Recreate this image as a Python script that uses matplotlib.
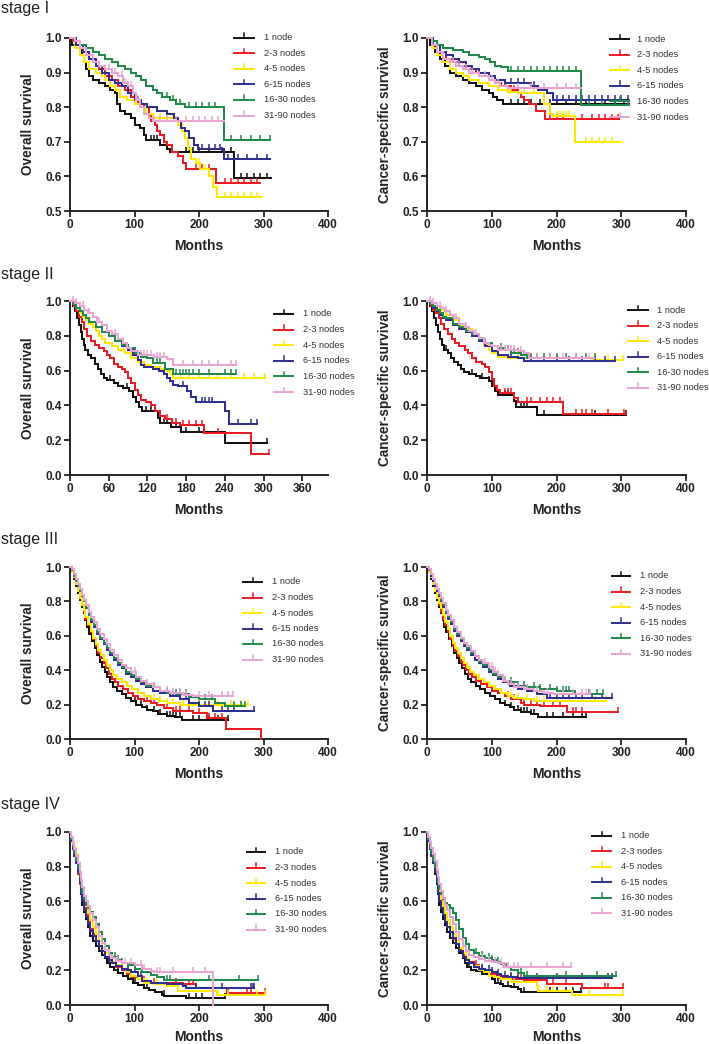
import numpy as np
import matplotlib
matplotlib.use("Agg")
import matplotlib.pyplot as plt
from matplotlib.lines import Line2D
from matplotlib.markers import TICKUP

plt.rcParams['font.family'] = ['Liberation Sans', 'DejaVu Sans']

# ---------------- data ----------------
groups = ['1 node', '2-3 nodes', '4-5 nodes', '6-15 nodes', '16-30 nodes', '31-90 nodes']
stages = ['stage I', 'stage II', 'stage III', 'stage IV']
x_ticks_default = [0, 100, 200, 300, 400]
x_ticks_os2 = [0, 60, 120, 180, 240, 300, 360]

# knots: (month, survival from that month on)
# ---- stage I, overall survival
os1_n1 = [(0,1.0),(3,0.98),(8,0.97),(18,0.95),(22,0.93),(25,0.91),(30,0.89),(35,0.88),(45,0.87),(55,0.86),(62,0.85),(70,0.84),(73,0.81),(78,0.79),(85,0.78),(95,0.77),(100,0.75),(108,0.74),(115,0.72),(118,0.705),(140,0.69),(150,0.68),(155,0.67),(255,0.595),(312,0.595)]
os1_n2 = [(0,1.0),(5,0.99),(15,0.97),(25,0.95),(35,0.93),(45,0.91),(55,0.89),(65,0.88),(75,0.86),(85,0.85),(95,0.83),(105,0.81),(115,0.80),(122,0.78),(125,0.76),(132,0.75),(135,0.73),(140,0.72),(145,0.70),(150,0.69),(158,0.67),(168,0.66),(175,0.64),(180,0.62),(226,0.58),(295,0.58)]
os1_n3 = [(0,1.0),(8,0.97),(15,0.95),(22,0.93),(30,0.91),(40,0.90),(50,0.89),(55,0.88),(62,0.86),(70,0.85),(78,0.83),(88,0.82),(100,0.81),(110,0.80),(118,0.78),(128,0.77),(168,0.75),(173,0.73),(178,0.71),(183,0.68),(188,0.65),(195,0.64),(202,0.62),(215,0.60),(222,0.57),(228,0.54),(298,0.54)]
os1_n4 = [(0,1.0),(10,0.98),(20,0.96),(30,0.94),(40,0.92),(50,0.90),(60,0.88),(70,0.87),(80,0.86),(90,0.84),(100,0.82),(110,0.81),(120,0.80),(135,0.79),(150,0.78),(162,0.77),(168,0.76),(172,0.74),(178,0.73),(185,0.71),(192,0.69),(198,0.68),(238,0.65),(310,0.65)]
os1_n5 = [(0,1.0),(8,0.99),(15,0.98),(25,0.97),(35,0.96),(45,0.95),(55,0.94),(65,0.93),(75,0.92),(85,0.91),(95,0.90),(102,0.89),(110,0.88),(118,0.86),(128,0.85),(135,0.84),(142,0.83),(155,0.82),(165,0.81),(178,0.80),(238,0.705),(310,0.705)]
os1_n6 = [(0,1.0),(8,0.99),(15,0.97),(25,0.95),(35,0.93),(45,0.92),(55,0.91),(65,0.90),(75,0.89),(82,0.87),(90,0.86),(98,0.84),(103,0.82),(108,0.80),(115,0.78),(122,0.77),(128,0.76),(238,0.76)]
os1_c1 = [125,130,135,180,185,190,200,215,235,250,265,275,285,295,305]
os1_c2 = [195,205,215,240,250,260,270,280,290]
os1_c3 = [140,150,160,200,210,240,250,260,270,280,290]
os1_c4 = [205,215,225,232,245,260,275,290,305]
os1_c5 = [150,160,170,185,195,205,215,225,250,265,280,295,310]
os1_c6 = [60,65,70,80,85,90,95,105,115,130,140,150,165,180,190,200,210,220,230]

# ---- stage I, cancer-specific survival
css1_n1 = [(0,1.0),(5,0.98),(12,0.96),(20,0.94),(28,0.92),(35,0.90),(45,0.89),(55,0.88),(65,0.87),(75,0.86),(85,0.85),(95,0.84),(102,0.83),(108,0.82),(118,0.81),(312,0.81)]
css1_n2 = [(0,1.0),(10,0.98),(20,0.96),(30,0.94),(40,0.93),(50,0.92),(60,0.91),(75,0.90),(90,0.89),(105,0.88),(110,0.87),(115,0.86),(130,0.85),(140,0.84),(145,0.83),(150,0.82),(158,0.81),(168,0.79),(182,0.765),(297,0.765)]
css1_n3 = [(0,1.0),(8,0.97),(15,0.95),(25,0.93),(35,0.91),(45,0.90),(55,0.89),(65,0.88),(80,0.87),(95,0.86),(110,0.85),(125,0.845),(140,0.84),(180,0.81),(190,0.78),(195,0.775),(229,0.70),(298,0.70)]
css1_n4 = [(0,1.0),(10,0.98),(20,0.96),(30,0.95),(40,0.94),(50,0.93),(60,0.92),(70,0.91),(80,0.90),(95,0.89),(105,0.88),(120,0.87),(160,0.86),(172,0.85),(185,0.84),(195,0.82),(312,0.82)]
css1_n5 = [(0,1.0),(8,0.99),(15,0.98),(25,0.97),(40,0.965),(55,0.96),(65,0.95),(80,0.945),(90,0.94),(98,0.93),(105,0.92),(115,0.915),(125,0.905),(238,0.805),(312,0.805)]
css1_n6 = [(0,1.0),(8,0.98),(15,0.96),(25,0.94),(35,0.93),(45,0.92),(55,0.91),(65,0.90),(80,0.89),(95,0.88),(105,0.87),(112,0.86),(125,0.855),(238,0.855)]
css1_c1 = [130,140,150,160,175,190,200,215,230,245,260,275,290,305]
css1_c2 = [120,135,190,200,210,240,255,265,275,285,295]
css1_c3 = [130,150,165,200,205,210,215,220,245,255,265,275,285]
css1_c4 = [130,140,150,165,200,210,220,230,240,250,260,270,280,290,300,310]
css1_c5 = [130,140,150,160,170,180,190,200,210,220,230,250,270,290,310]
css1_c6 = [40,50,60,70,80,90,100,110,140,160,180,200,215,230]

# ---- stage II, overall survival
os2_n1 = [(0,1.0),(5,0.97),(8,0.94),(11,0.90),(14,0.86),(17,0.82),(19,0.78),(21,0.75),(24,0.72),(28,0.69),(33,0.67),(38,0.64),(43,0.61),(48,0.58),(53,0.56),(58,0.545),(68,0.53),(75,0.51),(82,0.50),(92,0.48),(97,0.45),(102,0.42),(107,0.39),(112,0.37),(136,0.33),(140,0.30),(157,0.275),(172,0.25),(240,0.185),(305,0.185)]
os2_n2 = [(0,1.0),(6,0.97),(10,0.94),(14,0.91),(18,0.88),(22,0.84),(27,0.80),(32,0.77),(38,0.75),(45,0.73),(52,0.71),(58,0.69),(62,0.67),(68,0.64),(74,0.62),(80,0.61),(85,0.59),(90,0.56),(95,0.53),(100,0.49),(105,0.46),(110,0.43),(118,0.42),(125,0.40),(132,0.37),(140,0.34),(147,0.32),(158,0.30),(170,0.29),(208,0.24),(280,0.12),(308,0.12)]
os2_n3 = [(0,1.0),(5,0.98),(10,0.96),(15,0.93),(20,0.91),(25,0.89),(30,0.87),(35,0.85),(40,0.83),(45,0.80),(50,0.78),(55,0.76),(65,0.74),(75,0.72),(85,0.70),(95,0.67),(105,0.65),(115,0.635),(125,0.62),(140,0.61),(150,0.60),(155,0.58),(160,0.56),(302,0.56)]
os2_n4 = [(0,1.0),(5,0.98),(10,0.96),(15,0.94),(20,0.92),(25,0.90),(30,0.88),(40,0.85),(50,0.82),(60,0.80),(70,0.77),(80,0.74),(90,0.72),(98,0.69),(105,0.66),(110,0.63),(115,0.62),(128,0.61),(138,0.60),(145,0.58),(150,0.56),(155,0.54),(160,0.52),(168,0.51),(182,0.48),(188,0.45),(195,0.42),(240,0.37),(246,0.295),(290,0.295)]
os2_n5 = [(0,1.0),(5,0.98),(10,0.96),(15,0.94),(20,0.92),(25,0.90),(30,0.88),(40,0.85),(50,0.82),(60,0.80),(70,0.77),(80,0.75),(90,0.73),(100,0.70),(110,0.68),(120,0.67),(128,0.645),(148,0.61),(160,0.58),(258,0.58)]
os2_n6 = [(0,1.0),(8,0.99),(15,0.97),(22,0.95),(28,0.93),(35,0.91),(42,0.88),(50,0.86),(58,0.83),(65,0.81),(75,0.78),(82,0.76),(88,0.73),(95,0.71),(105,0.69),(130,0.68),(150,0.665),(160,0.635),(258,0.635)]
os2_c1 = [62,88,118,125,145,150,165,180,200,305]
os2_c2 = [150,165,175,185,195,205,230,308]
os2_c3 = [170,185,200,215,230,250,270,285,302]
os2_c4 = [175,205,210,215,220,260,280,290]
os2_c5 = [135,140,165,170,175,180,185,190,200,215,240,250,258]
os2_c6 = [5,10,20,30,45,70,110,115,120,125,135,140,145,175,190,205,215,230,250,258]

# ---- stage II, cancer-specific survival
css2_n1 = [(0,1.0),(5,0.97),(8,0.94),(11,0.90),(14,0.86),(17,0.82),(20,0.78),(23,0.75),(27,0.72),(32,0.70),(37,0.67),(42,0.65),(48,0.63),(53,0.61),(57,0.59),(65,0.58),(75,0.57),(82,0.555),(95,0.54),(100,0.51),(105,0.48),(110,0.46),(135,0.425),(138,0.39),(170,0.345),(308,0.345)]
css2_n2 = [(0,1.0),(6,0.97),(10,0.95),(14,0.93),(18,0.90),(22,0.87),(26,0.84),(32,0.81),(38,0.78),(44,0.76),(50,0.74),(58,0.72),(64,0.70),(70,0.67),(76,0.65),(85,0.64),(90,0.62),(95,0.59),(100,0.55),(104,0.51),(108,0.49),(113,0.47),(135,0.44),(140,0.42),(210,0.35),(308,0.35)]
css2_n3 = [(0,1.0),(5,0.98),(10,0.97),(20,0.95),(30,0.92),(40,0.89),(50,0.86),(60,0.84),(70,0.81),(80,0.78),(88,0.75),(95,0.72),(100,0.70),(110,0.68),(125,0.675),(150,0.67),(255,0.66),(302,0.66)]
css2_n4 = [(0,1.0),(5,0.98),(10,0.96),(15,0.94),(20,0.92),(25,0.90),(30,0.89),(40,0.86),(50,0.84),(60,0.82),(70,0.80),(80,0.77),(90,0.74),(100,0.71),(110,0.69),(125,0.68),(140,0.67),(150,0.655),(290,0.655)]
css2_n5 = [(0,1.0),(5,0.98),(10,0.97),(15,0.95),(20,0.93),(25,0.91),(30,0.90),(40,0.87),(50,0.85),(60,0.83),(70,0.81),(80,0.78),(90,0.76),(100,0.74),(110,0.73),(120,0.72),(130,0.70),(145,0.69),(155,0.675),(260,0.675)]
css2_n6 = [(0,1.0),(8,0.99),(15,0.97),(22,0.96),(28,0.94),(35,0.92),(42,0.90),(50,0.87),(58,0.85),(65,0.83),(72,0.81),(80,0.79),(88,0.76),(95,0.75),(100,0.74),(110,0.72),(140,0.71),(150,0.70),(158,0.67),(258,0.67)]
css2_c1 = [30,70,85,95,120,125,145,150,155,180,260,308]
css2_c2 = [120,125,130,155,160,175,185,195,205,230,240,245,255,280,305]
css2_c3 = [140,160,180,200,230,260,280,302]
css2_c4 = [130,160,180,200,220,240,260,275,290]
css2_c5 = [115,125,135,140,160,170,180,190,200,215,230,245,260]
css2_c6 = [5,10,20,30,45,60,75,90,115,120,125,130,135,145,170,190,210,230,250]

# ---- stage III, overall survival
os3_n1 = [(0,1.0),(3,0.97),(6,0.93),(9,0.89),(12,0.85),(15,0.81),(18,0.77),(21,0.73),(24,0.69),(27,0.65),(30,0.61),(34,0.57),(38,0.53),(42,0.49),(46,0.45),(50,0.42),(54,0.39),(58,0.36),(62,0.33),(67,0.30),(73,0.28),(80,0.26),(87,0.24),(95,0.22),(103,0.20),(112,0.185),(120,0.17),(128,0.16),(137,0.145),(150,0.135),(163,0.13),(174,0.11),(245,0.11)]
os3_n2 = [(0,1.0),(3,0.97),(6,0.94),(9,0.90),(12,0.86),(15,0.82),(18,0.78),(21,0.74),(24,0.70),(28,0.66),(32,0.62),(36,0.58),(40,0.54),(44,0.50),(48,0.47),(52,0.44),(56,0.41),(60,0.38),(65,0.35),(70,0.33),(75,0.31),(82,0.29),(90,0.27),(98,0.25),(106,0.23),(115,0.22),(125,0.21),(135,0.20),(145,0.18),(160,0.165),(180,0.16),(190,0.15),(212,0.125),(242,0.06),(296,0.0)]
os3_n3 = [(0,1.0),(3,0.97),(6,0.94),(9,0.90),(12,0.86),(15,0.82),(18,0.78),(21,0.75),(24,0.71),(28,0.67),(32,0.63),(36,0.59),(40,0.55),(44,0.52),(48,0.49),(52,0.46),(57,0.43),(62,0.40),(67,0.37),(73,0.35),(80,0.33),(88,0.31),(96,0.29),(105,0.27),(115,0.25),(125,0.235),(138,0.22),(150,0.21),(170,0.20),(276,0.20)]
os3_n4 = [(0,1.0),(3,0.98),(6,0.95),(9,0.92),(12,0.89),(15,0.86),(18,0.83),(21,0.80),(25,0.76),(29,0.72),(33,0.68),(37,0.65),(42,0.61),(47,0.58),(52,0.55),(57,0.52),(62,0.49),(68,0.46),(74,0.43),(80,0.41),(87,0.38),(95,0.36),(102,0.34),(110,0.32),(118,0.30),(128,0.28),(140,0.27),(155,0.25),(170,0.23),(185,0.21),(200,0.19),(222,0.16),(285,0.16)]
os3_n5 = [(0,1.0),(3,0.98),(6,0.95),(9,0.92),(12,0.89),(15,0.86),(18,0.83),(21,0.80),(25,0.76),(29,0.72),(33,0.69),(37,0.66),(42,0.62),(47,0.59),(52,0.56),(57,0.53),(62,0.50),(68,0.47),(74,0.44),(80,0.42),(87,0.39),(95,0.37),(102,0.35),(110,0.33),(118,0.31),(128,0.30),(140,0.28),(150,0.27),(165,0.26),(185,0.245),(200,0.23),(225,0.21),(240,0.19),(272,0.19)]
os3_n6 = [(0,1.0),(3,0.99),(6,0.96),(9,0.93),(12,0.90),(15,0.87),(18,0.84),(21,0.81),(25,0.78),(29,0.74),(33,0.71),(37,0.68),(42,0.64),(47,0.61),(52,0.58),(57,0.55),(62,0.52),(68,0.49),(74,0.46),(80,0.43),(87,0.41),(95,0.39),(102,0.36),(110,0.34),(118,0.32),(128,0.30),(140,0.28),(155,0.265),(175,0.255),(190,0.25),(252,0.25)]
os3_c1 = [100,110,120,130,140,150,155,160,165,170,190,200,215,230,245]
os3_c2 = [120,130,150,165,170,185,200,215,225,235]
os3_c3 = [130,140,150,160,175,185,200,215,230,250,265,276]
os3_c4 = [160,180,200,210,215,235,245,255,285]
os3_c5 = [120,130,150,165,170,180,210,220,255,265,272]
os3_c6 = [100,110,120,130,140,150,160,170,180,200,215,235,245,252]

# ---- stage III, cancer-specific survival
css3_n1 = [(0,1.0),(3,0.97),(6,0.93),(9,0.89),(12,0.85),(15,0.81),(18,0.77),(21,0.73),(24,0.69),(27,0.65),(30,0.62),(34,0.58),(38,0.54),(42,0.50),(46,0.47),(50,0.44),(54,0.41),(58,0.38),(63,0.35),(68,0.33),(75,0.31),(82,0.29),(90,0.27),(98,0.25),(105,0.23),(112,0.21),(120,0.20),(128,0.185),(135,0.17),(145,0.155),(160,0.145),(172,0.13),(245,0.13)]
css3_n2 = [(0,1.0),(3,0.97),(6,0.94),(9,0.90),(12,0.86),(15,0.82),(18,0.78),(21,0.74),(24,0.70),(28,0.66),(32,0.62),(36,0.58),(40,0.54),(44,0.51),(48,0.48),(52,0.45),(56,0.43),(60,0.40),(65,0.38),(70,0.36),(76,0.34),(84,0.32),(92,0.30),(100,0.28),(110,0.265),(120,0.25),(130,0.23),(145,0.21),(150,0.20),(175,0.19),(216,0.155),(295,0.155)]
css3_n3 = [(0,1.0),(3,0.97),(6,0.94),(9,0.90),(12,0.86),(15,0.82),(18,0.79),(21,0.76),(24,0.72),(28,0.68),(32,0.64),(36,0.60),(40,0.56),(44,0.53),(48,0.50),(52,0.47),(57,0.44),(62,0.42),(67,0.39),(73,0.37),(80,0.35),(88,0.33),(96,0.31),(105,0.29),(115,0.27),(125,0.25),(135,0.24),(148,0.23),(165,0.22),(276,0.22)]
css3_n4 = [(0,1.0),(3,0.98),(6,0.95),(9,0.92),(12,0.89),(15,0.86),(18,0.83),(21,0.80),(25,0.77),(29,0.73),(33,0.70),(37,0.67),(42,0.63),(47,0.60),(52,0.57),(57,0.54),(62,0.52),(68,0.49),(74,0.46),(80,0.44),(87,0.42),(95,0.39),(102,0.37),(110,0.35),(118,0.33),(128,0.31),(140,0.29),(155,0.28),(170,0.26),(185,0.24),(285,0.24)]
css3_n5 = [(0,1.0),(3,0.98),(6,0.96),(9,0.93),(12,0.90),(15,0.87),(18,0.84),(21,0.81),(25,0.78),(29,0.74),(33,0.71),(37,0.68),(42,0.64),(47,0.61),(52,0.58),(57,0.55),(62,0.53),(68,0.50),(74,0.48),(80,0.45),(87,0.43),(95,0.40),(102,0.38),(110,0.36),(118,0.34),(128,0.33),(140,0.31),(155,0.30),(175,0.29),(200,0.28),(228,0.26),(272,0.26)]
css3_n6 = [(0,1.0),(3,0.99),(6,0.96),(9,0.93),(12,0.90),(15,0.87),(18,0.85),(21,0.82),(25,0.79),(29,0.75),(33,0.72),(37,0.69),(42,0.65),(47,0.62),(52,0.59),(57,0.56),(62,0.54),(68,0.51),(74,0.48),(80,0.46),(87,0.44),(95,0.42),(102,0.39),(110,0.37),(118,0.34),(125,0.32),(135,0.30),(150,0.29),(165,0.28),(180,0.27),(195,0.26),(252,0.26)]
css3_c1 = [120,130,140,145,150,155,160,165,185,195,210,225,240,245]
css3_c2 = [125,135,150,160,170,180,195,205,225,230,240,295]
css3_c3 = [130,140,155,170,180,200,220,240,260,276]
css3_c4 = [190,200,210,220,230,240,255,270,285]
css3_c5 = [120,130,140,150,165,175,190,200,210,215,220,250,262,272]
css3_c6 = [90,95,100,105,110,120,130,140,155,170,185,210,225,240,245,252]

# ---- stage IV, overall survival
os4_n1 = [(0,1.0),(2,0.95),(4,0.90),(6,0.86),(9,0.82),(12,0.76),(15,0.70),(17,0.64),(19,0.58),(22,0.54),(25,0.50),(28,0.45),(31,0.40),(35,0.37),(40,0.34),(45,0.31),(50,0.29),(55,0.27),(58,0.245),(62,0.22),(68,0.20),(75,0.185),(82,0.17),(90,0.15),(97,0.13),(105,0.115),(115,0.10),(123,0.085),(132,0.075),(143,0.06),(146,0.05),(180,0.04),(240,0.04)]
os4_n2 = [(0,1.0),(2,0.95),(4,0.91),(6,0.87),(9,0.82),(12,0.76),(15,0.70),(17,0.65),(19,0.60),(22,0.56),(25,0.52),(28,0.48),(31,0.44),(35,0.41),(40,0.37),(45,0.34),(50,0.31),(55,0.28),(60,0.26),(65,0.24),(72,0.22),(80,0.20),(88,0.18),(95,0.16),(105,0.15),(112,0.14),(125,0.13),(175,0.12),(196,0.10),(243,0.07),(302,0.07)]
os4_n3 = [(0,1.0),(2,0.97),(4,0.94),(6,0.91),(9,0.87),(12,0.81),(15,0.75),(17,0.70),(19,0.66),(22,0.61),(25,0.57),(28,0.53),(31,0.49),(35,0.45),(40,0.41),(45,0.37),(50,0.33),(55,0.30),(60,0.27),(65,0.25),(72,0.23),(80,0.21),(88,0.19),(95,0.17),(105,0.15),(115,0.13),(130,0.12),(150,0.11),(168,0.08),(228,0.06),(303,0.06)]
os4_n4 = [(0,1.0),(2,0.95),(4,0.90),(6,0.86),(9,0.82),(12,0.77),(15,0.71),(17,0.65),(19,0.60),(22,0.55),(25,0.51),(28,0.47),(31,0.43),(35,0.40),(40,0.37),(45,0.34),(50,0.31),(55,0.28),(60,0.26),(65,0.24),(72,0.225),(80,0.21),(88,0.20),(95,0.19),(105,0.17),(112,0.14),(125,0.13),(150,0.12),(175,0.11),(180,0.10),(286,0.10)]
os4_n5 = [(0,1.0),(2,0.96),(4,0.92),(6,0.88),(9,0.84),(12,0.79),(15,0.74),(17,0.69),(19,0.65),(22,0.61),(25,0.58),(28,0.56),(31,0.54),(35,0.51),(40,0.47),(45,0.42),(50,0.38),(55,0.34),(60,0.30),(65,0.28),(72,0.26),(80,0.24),(90,0.23),(100,0.21),(112,0.19),(125,0.175),(135,0.16),(145,0.145),(292,0.145)]
os4_n6 = [(0,1.0),(2,0.97),(4,0.93),(6,0.90),(9,0.86),(12,0.82),(15,0.77),(17,0.72),(19,0.68),(22,0.63),(25,0.60),(28,0.57),(31,0.53),(35,0.49),(40,0.45),(45,0.40),(50,0.36),(55,0.32),(60,0.29),(65,0.27),(72,0.255),(80,0.245),(90,0.24),(100,0.23),(112,0.21),(125,0.195),(130,0.19),(222,0.0)]
os4_c1 = [60,75,100,120,145,185,195,205,240]
os4_c2 = [105,115,130,165,185,190,245,275,280,302]
os4_c3 = [120,135,230,245,290,303]
os4_c4 = [90,100,110,195,235,280,283,286]
os4_c5 = [70,75,80,150,155,215,262,292]
os4_c6 = [75,85,95,110,115,135,140,160,190,210]

# ---- stage IV, cancer-specific survival
css4_n1 = [(0,1.0),(2,0.95),(4,0.90),(6,0.86),(9,0.82),(12,0.76),(15,0.70),(17,0.64),(19,0.58),(22,0.54),(25,0.50),(28,0.46),(31,0.42),(35,0.39),(40,0.36),(45,0.33),(50,0.30),(55,0.27),(58,0.24),(62,0.22),(68,0.205),(75,0.195),(85,0.18),(95,0.165),(100,0.15),(105,0.13),(112,0.12),(118,0.11),(130,0.105),(140,0.095),(145,0.075),(238,0.075)]
css4_n2 = [(0,1.0),(2,0.95),(4,0.91),(6,0.87),(9,0.82),(12,0.77),(15,0.71),(17,0.66),(19,0.61),(22,0.57),(25,0.53),(28,0.49),(31,0.45),(35,0.42),(40,0.38),(45,0.35),(50,0.32),(55,0.29),(60,0.27),(65,0.25),(72,0.23),(80,0.21),(88,0.195),(95,0.18),(105,0.165),(112,0.155),(125,0.15),(150,0.145),(186,0.12),(239,0.10),(303,0.10)]
css4_n3 = [(0,1.0),(2,0.97),(4,0.94),(6,0.91),(9,0.87),(12,0.81),(15,0.75),(17,0.70),(19,0.66),(22,0.61),(25,0.57),(28,0.53),(31,0.49),(35,0.45),(40,0.41),(45,0.37),(50,0.33),(55,0.30),(60,0.27),(65,0.245),(72,0.225),(80,0.205),(88,0.19),(95,0.17),(105,0.16),(115,0.15),(130,0.135),(170,0.11),(172,0.08),(224,0.06),(303,0.06)]
css4_n4 = [(0,1.0),(2,0.95),(4,0.90),(6,0.86),(9,0.82),(12,0.77),(15,0.71),(17,0.65),(19,0.60),(22,0.56),(25,0.52),(28,0.48),(31,0.45),(35,0.42),(40,0.39),(45,0.35),(50,0.31),(55,0.28),(60,0.26),(65,0.24),(72,0.22),(80,0.21),(90,0.20),(100,0.19),(108,0.18),(115,0.17),(125,0.16),(140,0.155),(285,0.155)]
css4_n5 = [(0,1.0),(2,0.96),(4,0.92),(6,0.88),(9,0.84),(12,0.80),(15,0.76),(17,0.71),(19,0.67),(22,0.64),(25,0.61),(28,0.59),(31,0.58),(35,0.56),(40,0.53),(45,0.49),(50,0.44),(55,0.39),(60,0.35),(65,0.32),(72,0.30),(80,0.285),(90,0.27),(100,0.26),(108,0.25),(115,0.235),(122,0.22),(130,0.20),(140,0.185),(150,0.17),(292,0.17)]
css4_n6 = [(0,1.0),(2,0.97),(4,0.94),(6,0.91),(9,0.87),(12,0.83),(15,0.78),(17,0.74),(19,0.70),(22,0.66),(25,0.62),(28,0.58),(31,0.55),(35,0.51),(40,0.47),(45,0.42),(50,0.38),(55,0.34),(60,0.31),(65,0.29),(72,0.275),(80,0.265),(90,0.255),(100,0.25),(110,0.24),(118,0.22),(222,0.22)]
css4_c1 = [65,80,105,110,115,125,135,150,190,200,215,225,238]
css4_c2 = [75,85,100,130,145,160,175,195,215,275,280,303]
css4_c3 = [135,185,195,250,303]
css4_c4 = [85,95,100,110,120,130,140,150,170,200,240,280,285]
css4_c5 = [75,85,95,100,110,145,155,215,262,292]
css4_c6 = [85,95,105,115,120,125,135,140,160,185,210,222]

# ---------------- style / layout ----------------
colors = ['#111111', '#ec1c24', '#ffe800', '#2e2f8f', '#1f8a4c', '#e9a3d3']
W, H = 709, 1044
fig = plt.figure(figsize=(W / 100, H / 100), dpi=100)

def fx(px):
    return px / W

def fy(py):
    return 1 - py / H

col_x = [(70, 328), (427, 686)]
row_y = [(38, 211), (301, 475), (567, 739), (832, 1005)]
months_off = [34.5, 34.5, 34.5, 32.0]
stage_baseline = [12.5, 279, 544, 809]

panels = [
    dict(r=0, c=0, curves=[os1_n1, os1_n2, os1_n3, os1_n4, os1_n5, os1_n6],
         cens=[os1_c1, os1_c2, os1_c3, os1_c4, os1_c5, os1_c6], ylab='Overall survival',
         ylim=(0.5, 1.0), yt=[0.5, 0.6, 0.7, 0.8, 0.9, 1.0], xt=x_ticks_default, leg=(234, 254, 264, 37.5, 15.6)),
    dict(r=0, c=1, curves=[css1_n1, css1_n2, css1_n3, css1_n4, css1_n5, css1_n6],
         cens=[css1_c1, css1_c2, css1_c3, css1_c4, css1_c5, css1_c6], ylab='Cancer-specific survival',
         ylim=(0.5, 1.0), yt=[0.5, 0.6, 0.7, 0.8, 0.9, 1.0], xt=x_ticks_default, leg=(610, 629, 637, 39, 15.6)),
    dict(r=1, c=0, curves=[os2_n1, os2_n2, os2_n3, os2_n4, os2_n5, os2_n6],
         cens=[os2_c1, os2_c2, os2_c3, os2_c4, os2_c5, os2_c6], ylab='Overall survival',
         ylim=(0.0, 1.0), yt=[0.0, 0.2, 0.4, 0.6, 0.8, 1.0], xt=x_ticks_os2, leg=(274, 293, 303, 314, 15.6)),
    dict(r=1, c=1, curves=[css2_n1, css2_n2, css2_n3, css2_n4, css2_n5, css2_n6],
         cens=[css2_c1, css2_c2, css2_c3, css2_c4, css2_c5, css2_c6], ylab='Cancer-specific survival',
         ylim=(0.0, 1.0), yt=[0.0, 0.2, 0.4, 0.6, 0.8, 1.0], xt=x_ticks_default, leg=(628, 648, 657, 310, 15.6)),
    dict(r=2, c=0, curves=[os3_n1, os3_n2, os3_n3, os3_n4, os3_n5, os3_n6],
         cens=[os3_c1, os3_c2, os3_c3, os3_c4, os3_c5, os3_c6], ylab='Overall survival',
         ylim=(0.0, 1.0), yt=[0.0, 0.2, 0.4, 0.6, 0.8, 1.0], xt=x_ticks_default, leg=(243, 262, 272, 582, 15.5)),
    dict(r=2, c=1, curves=[css3_n1, css3_n2, css3_n3, css3_n4, css3_n5, css3_n6],
         cens=[css3_c1, css3_c2, css3_c3, css3_c4, css3_c5, css3_c6], ylab='Cancer-specific survival',
         ylim=(0.0, 1.0), yt=[0.0, 0.2, 0.4, 0.6, 0.8, 1.0], xt=x_ticks_default, leg=(612, 630, 640, 576, 15.6)),
    dict(r=3, c=0, curves=[os4_n1, os4_n2, os4_n3, os4_n4, os4_n5, os4_n6],
         cens=[os4_c1, os4_c2, os4_c3, os4_c4, os4_c5, os4_c6], ylab='Overall survival',
         ylim=(0.0, 1.0), yt=[0.0, 0.2, 0.4, 0.6, 0.8, 1.0], xt=x_ticks_default, leg=(247, 265, 275, 852, 15.5)),
    dict(r=3, c=1, curves=[css4_n1, css4_n2, css4_n3, css4_n4, css4_n5, css4_n6],
         cens=[css4_c1, css4_c2, css4_c3, css4_c4, css4_c5, css4_c6], ylab='Cancer-specific survival',
         ylim=(0.0, 1.0), yt=[0.0, 0.2, 0.4, 0.6, 0.8, 1.0], xt=x_ticks_default, leg=(592, 611, 621, 836, 15.4)),
]

LW = 1.45
for p in panels:
    x0, x1 = col_x[p['c']]
    y0, y1 = row_y[p['r']]
    ax = fig.add_axes([fx(x0), fy(y1), fx(x1) - fx(x0), fy(y0) - fy(y1)])
    ax.set_xlim(0, 400)
    ax.set_ylim(*p['ylim'])
    for sp in ['top', 'right']:
        ax.spines[sp].set_visible(False)
    for sp in ['left', 'bottom']:
        ax.spines[sp].set_linewidth(1.4)
        ax.spines[sp].set_color('#222222')
    ax.set_xticks(p['xt'])
    ax.set_yticks(p['yt'])
    ax.set_xticklabels([str(v) for v in p['xt']])
    ax.set_yticklabels(['%.1f' % v for v in p['yt']])
    ax.tick_params(direction='out', length=4, width=1.3, color='#222222', pad=2,
                   labelsize=8.5, labelcolor='#222222')
    for lab in ax.get_xticklabels() + ax.get_yticklabels():
        lab.set_fontweight('bold')
    ax.patch.set_alpha(0)

    for k, (knots, cens) in enumerate(zip(p['curves'], p['cens'])):
        t = np.array([a for a, b in knots], dtype=float)
        s = np.array([b for a, b in knots], dtype=float)
        ax.plot(t, s, drawstyle='steps-post', color=colors[k], lw=LW, clip_on=False, zorder=2 + k,
                solid_joinstyle='miter')
        ct = np.array(cens, dtype=float)
        idx = np.searchsorted(t, ct, side='right') - 1
        idx = np.clip(idx, 0, len(s) - 1)
        ax.plot(ct, s[idx], linestyle='none', marker=TICKUP, markersize=3.6,
                markeredgewidth=1.1, color=colors[k], clip_on=False, zorder=2 + k)

    # y label & x label
    fig.text(fx(x0 - 42), fy((y0 + y1) / 2), p['ylab'], rotation=90, ha='center', va='center',
             fontsize=9.8, fontweight='bold', color='#222222')
    fig.text(fx((x0 + x1) / 2), fy(y1 + months_off[p['r']]), 'Months', ha='center', va='center',
             fontsize=10, fontweight='bold', color='#222222')

    # legend
    lx0, lx1, tx, ly, dy = p['leg']
    for k, g in enumerate(groups):
        yy = ly + k * dy
        fig.add_artist(Line2D([fx(lx0), fx(lx1)], [fy(yy), fy(yy)], color=colors[k], lw=1.4,
                              transform=fig.transFigure))
        fig.add_artist(Line2D([fx((lx0 + lx1) / 2)] * 2, [fy(yy), fy(yy - 4.5)], color=colors[k], lw=1.1,
                              transform=fig.transFigure))
        fig.text(fx(tx), fy(yy), g, ha='left', va='center', fontsize=6.7, color='#333333')

for r, st in enumerate(stages):
    fig.text(fx(1), fy(stage_baseline[r]), st, ha='left', va='baseline', fontsize=11.5, color='#222222')

fig.savefig('out.png', dpi=100)
